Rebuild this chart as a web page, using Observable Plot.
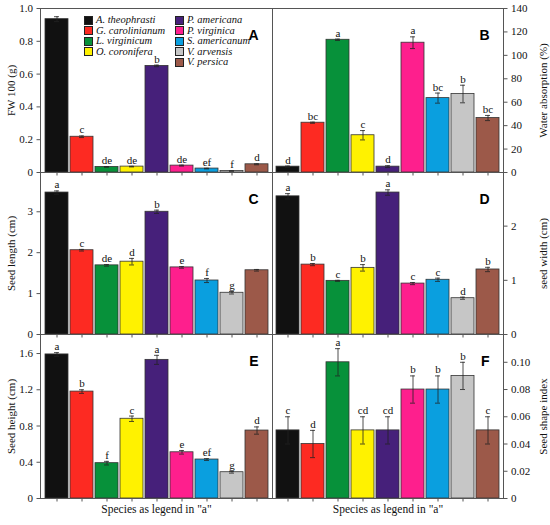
<!DOCTYPE html>
<html>
<head>
<meta charset="utf-8">
<script src="https://cdn.jsdelivr.net/npm/d3@7"></script>
<script src="https://cdn.jsdelivr.net/npm/@observablehq/plot@0.6"></script>
<style>
  body { margin: 0; background: #fff; }
  #fig { position: relative; width: 550px; height: 525px; }
  #fig svg { position: absolute; }
  #fig svg, #fig svg text { font-family: "Liberation Serif", serif; }
  #fig svg .pletter, #fig svg .pletter text { font-family: "Liberation Sans", sans-serif; font-weight: bold; }
  .legend { position: absolute; left: 84px; top: 14px; font-family: "Liberation Serif", serif; font-style: italic; font-size: 10.5px; color: #111; }
  .legend .item { position: absolute; white-space: nowrap; height: 11px; line-height: 11px; }
  .legend .sw { position: absolute; left: 0; top: 1.5px; width: 7px; height: 7px; border: 1px solid #222; }
  .legend .lb { position: absolute; left: 12px; top: 0; font-style: italic; }
</style>
</head>
<body>
<div id="fig"></div>
<script>
const species = ["A. theophrasti", "G. carolinianum", "L. virginicum", "O. coronifera", "P. americana",
                 "P. virginica", "S. americanum", "V. arvensis", "V. persica"]
const colors = ["#111111", "#fd2a22", "#07913a", "#fff200", "#46207a", "#fe1f8d", "#0a9fdf", "#c6c6c6", "#9c5949"]

const fw100 = [0.935, 0.218, 0.034, 0.036, 0.650, 0.042, 0.024, 0.009, 0.050]
const fw100Err = [0.015, 0.005, 0.002, 0.002, 0.005, 0.003, 0.002, 0.001, 0.003]
const fw100Grp = ["", "c", "de", "de", "b", "de", "ef", "f", "d"]

const waterAbs = [5, 42.5, 113.3, 31.8, 5, 110.8, 63.5, 67, 46.5]
const waterAbsErr = [0.5, 0.5, 0.6, 4, 0.8, 5, 4.3, 7.5, 2.2]
const waterAbsGrp = ["d", "bc", "a", "c", "d", "a", "bc", "b", "bc"]

const seedLength = [3.47, 2.06, 1.69, 1.78, 3.0, 1.64, 1.32, 1.02, 1.57]
const seedLengthErr = [0.04, 0.02, 0.02, 0.08, 0.04, 0.02, 0.05, 0.03, 0.02]
const seedLengthGrp = ["a", "c", "de", "d", "b", "e", "f", "g", ""]

const seedWidth = [2.55, 1.29, 0.99, 1.23, 2.62, 0.94, 1.01, 0.67, 1.20]
const seedWidthErr = [0.05, 0.02, 0.01, 0.06, 0.05, 0.02, 0.03, 0.02, 0.04]
const seedWidthGrp = ["a", "b", "c", "b", "a", "c", "c", "d", "b"]

const seedHeight = [1.59, 1.18, 0.39, 0.88, 1.53, 0.51, 0.43, 0.29, 0.75]
const seedHeightErr = [0.02, 0.02, 0.02, 0.03, 0.05, 0.02, 0.01, 0.01, 0.04]
const seedHeightGrp = ["a", "b", "f", "c", "a", "e", "ef", "g", "d"]

const shapeIdx = [0.05, 0.04, 0.10, 0.05, 0.05, 0.08, 0.08, 0.09, 0.05]
const shapeIdxErr = [0.01, 0.01, 0.01, 0.01, 0.01, 0.01, 0.01, 0.01, 0.01]
const shapeIdxGrp = ["c", "d", "a", "cd", "cd", "b", "b", "b", "c"]

const xLabel = 'Species as legend in "a"'

const fig = document.getElementById("fig")
const serif = "Liberation Serif, serif"

// keeps a bare "0" at the origin
const fmt = k => d => d === 0 ? "0" : d.toFixed(k)

function panel(o) {
  const data = species.map((s, i) => ({sp: s, v: o.values[i], e: o.errors[i], g: o.groups[i]}))
  const left = o.side === "left"
  const marks = [
    Plot.barY(data, {x: "sp", y: "v", fill: "sp", stroke: "#333", strokeWidth: 0.8}),
    Plot.ruleX(data, {x: "sp", y1: d => d.v - d.e, y2: d => d.v + d.e, stroke: "#222", strokeWidth: 0.8}),
    Plot.tickY(data, {x: "sp", y: d => d.v + d.e, stroke: "#222", strokeWidth: 0.8, insetLeft: 9, insetRight: 9}),
    Plot.tickY(data, {x: "sp", y: d => d.v - d.e, stroke: "#222", strokeWidth: 0.8, insetLeft: 9, insetRight: 9}),
    Plot.text(data, {x: "sp", y: d => d.v + d.e, text: "g", dy: -6, fontSize: 11, fontFamily: serif, fill: "#111"}),
    Plot.frame({stroke: "#555"}),
    Plot.axisY({anchor: left ? "left" : "right", ticks: o.ticks, tickFormat: o.fmt, tickSize: 3.5, tickPadding: 4,
                label: o.label, labelAnchor: "center", labelArrow: "none", labelOffset: left ? 33 : 43,
                fontSize: 11, fontFamily: serif, stroke: "#555"}),
    Plot.axisX({tickSize: 3.5, tickFormat: () => "", label: null, stroke: "#555"}),
    Plot.text([o.letter], {frameAnchor: "top-right", textAnchor: "end", dx: -14, dy: 22, className: "pletter",
               fontFamily: "Liberation Sans, Arial, sans-serif", fontWeight: "bold", fontSize: 14, fill: "#000"})
  ]
  if (o.xLabel) marks.push(Plot.text([o.xLabel], {frameAnchor: "bottom", dy: 14, fontSize: 11.5, fontFamily: serif, fill: "#111"}))

  const chart = Plot.plot({
    width: left ? 273 : 279,
    height: o.height,
    marginLeft: left ? 40 : 1,
    marginRight: left ? 1 : 47,
    marginTop: 8,
    marginBottom: o.mBottom,
    style: {fontFamily: serif, fontSize: "11px", background: "transparent", overflow: "visible", color: "#111"},
    x: {domain: species, paddingInner: 0.08, paddingOuter: 0.04, axis: null},
    y: {domain: o.domain, axis: null},
    color: {domain: species, range: colors},
    marks
  })
  chart.style.left = (left ? 0 : 271) + "px"
  chart.style.top = o.top + "px"
  fig.appendChild(chart)
}

panel({side: "left", top: 0, height: 180, mBottom: 8, values: fw100, errors: fw100Err, groups: fw100Grp,
       domain: [0, 1], ticks: [0, 0.2, 0.4, 0.6, 0.8, 1.0], fmt: fmt(1), label: "FW 100 (g)", letter: "A"})
panel({side: "right", top: 0, height: 180, mBottom: 8, values: waterAbs, errors: waterAbsErr, groups: waterAbsGrp,
       domain: [0, 140], ticks: d3.range(0, 141, 20), fmt: d => String(d), label: "Water absorption (%)", letter: "B"})
panel({side: "left", top: 164, height: 178, mBottom: 8, values: seedLength, errors: seedLengthErr, groups: seedLengthGrp,
       domain: [0, 3.96], ticks: [0, 1, 2, 3], fmt: d => String(d), label: "Seed length (cm)", letter: "C"})
panel({side: "right", top: 164, height: 178, mBottom: 8, values: seedWidth, errors: seedWidthErr, groups: seedWidthGrp,
       domain: [0, 2.99], ticks: [0, 1, 2], fmt: d => String(d), label: "seed width (cm)", letter: "D"})
panel({side: "left", top: 326, height: 199, mBottom: 27, values: seedHeight, errors: seedHeightErr, groups: seedHeightGrp,
       domain: [0, 1.81], ticks: [0, 0.4, 0.8, 1.2, 1.6], fmt: fmt(1), label: "Seed height (cm)", letter: "E", xLabel})
panel({side: "right", top: 326, height: 199, mBottom: 27, values: shapeIdx, errors: shapeIdxErr, groups: shapeIdxGrp,
       domain: [0, 0.1204], ticks: [0, 0.02, 0.04, 0.06, 0.08, 0.10], fmt: fmt(2), label: "Seed shape index", letter: "F", xLabel})

// legend for panel A
const legend = document.createElement("div")
legend.className = "legend"
species.forEach((s, i) => {
  const col = i < 4 ? 0 : 1
  const row = i < 4 ? i : i - 4
  const item = document.createElement("div")
  item.className = "item"
  item.style.left = (col * 91) + "px"
  item.style.top = (row * 10.6) + "px"
  item.innerHTML = `<span class="sw" style="background:${colors[i]}"></span><span class="lb">${s}</span>`
  legend.appendChild(item)
})
fig.appendChild(legend)
</script>
</body>
</html>
